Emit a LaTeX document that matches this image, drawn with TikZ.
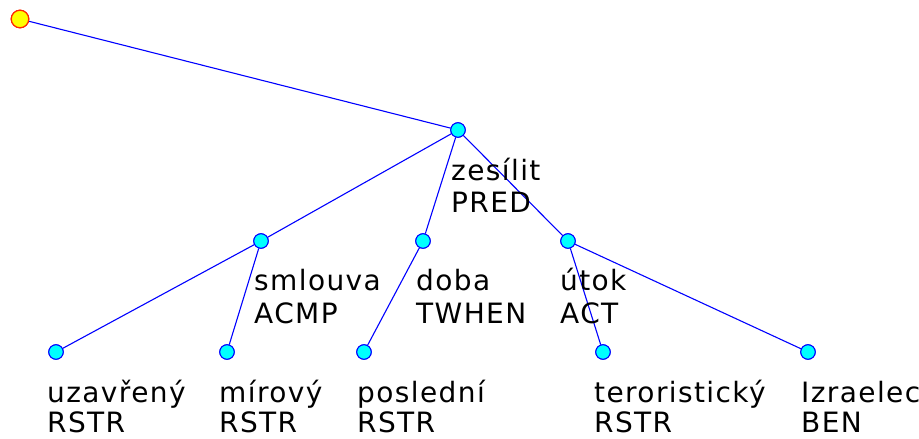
\documentclass[tikz,border=0pt]{standalone}
\usepackage{fontspec}
\newfontfamily\labfont[LetterSpace=5]{DejaVu Sans}
\definecolor{nodecyan}{RGB}{0,255,255}
\definecolor{edgeblue}{RGB}{0,0,255}
\definecolor{rootyellow}{RGB}{255,255,0}
\definecolor{rootred}{RGB}{255,40,0}
\begin{document}
\begin{tikzpicture}[x=1pt,y=-1pt,
  edge/.style={draw=edgeblue,line width=1.1pt},
  tnode/.style={circle,draw=edgeblue,fill=nodecyan,line width=1pt,minimum size=14.5pt,inner sep=0pt},
  rootnode/.style={circle,draw=rootred,fill=rootyellow,line width=1.2pt,minimum size=17.5pt,inner sep=0pt},
  lab/.style={anchor=base west,inner sep=0pt,font=\labfont\fontsize{28}{32}\selectfont,text=black}]
\useasboundingbox (0,0) rectangle (919,439);
% nodes
\node[rootnode] (root) at (20,19) {};
\node[tnode] (zes) at (458,130) {};
\node[tnode] (sml) at (261,241) {};
\node[tnode] (dob) at (423,241) {};
\node[tnode] (uto) at (568,241) {};
\node[tnode] (uza) at (56,352) {};
\node[tnode] (mir) at (227,352) {};
\node[tnode] (pos) at (364,352) {};
\node[tnode] (ter) at (603,352) {};
\node[tnode] (izr) at (808,352) {};
% edges
\draw[edge] (root) -- (zes);
\draw[edge] (zes) -- (sml);
\draw[edge] (zes) -- (dob);
\draw[edge] (zes) -- (uto);
\draw[edge] (sml) -- (uza);
\draw[edge] (sml) -- (mir);
\draw[edge] (dob) -- (pos);
\draw[edge] (uto) -- (ter);
\draw[edge] (uto) -- (izr);
% labels
\node[lab] (zesA) at (451,180) {zesílit};
\node[lab] (zesB) at (451,212) {PRED};
\node[lab] (smlA) at (254,290) {smlouva};
\node[lab] (smlB) at (254,323) {ACMP};
\node[lab] (dobA) at (416,290) {doba};
\node[lab] (dobB) at (416,323) {TWHEN};
\node[lab] (utoA) at (560,290) {útok};
\node[lab] (utoB) at (560,323) {ACT};
\node[lab] (uzaA) at (47,402) {uzavřený};
\node[lab] (uzaB) at (47,432) {RSTR};
\node[lab] (mirA) at (219,402) {mírový};
\node[lab] (mirB) at (219,432) {RSTR};
\node[lab] (posA) at (357,402) {poslední};
\node[lab] (posB) at (357,432) {RSTR};
\node[lab] (terA) at (594,402) {teroristický};
\node[lab] (terB) at (594,432) {RSTR};
\node[lab] (izrA) at (801,402) {Izraelec};
\node[lab] (izrB) at (801,432) {BEN};
% nodes drawn again on top of the connectors
\node[rootnode] at (root) {};
\foreach \n in {zes,sml,dob,uto,uza,mir,pos,ter,izr} \node[tnode] at (\n) {};
\end{tikzpicture}
\end{document}
